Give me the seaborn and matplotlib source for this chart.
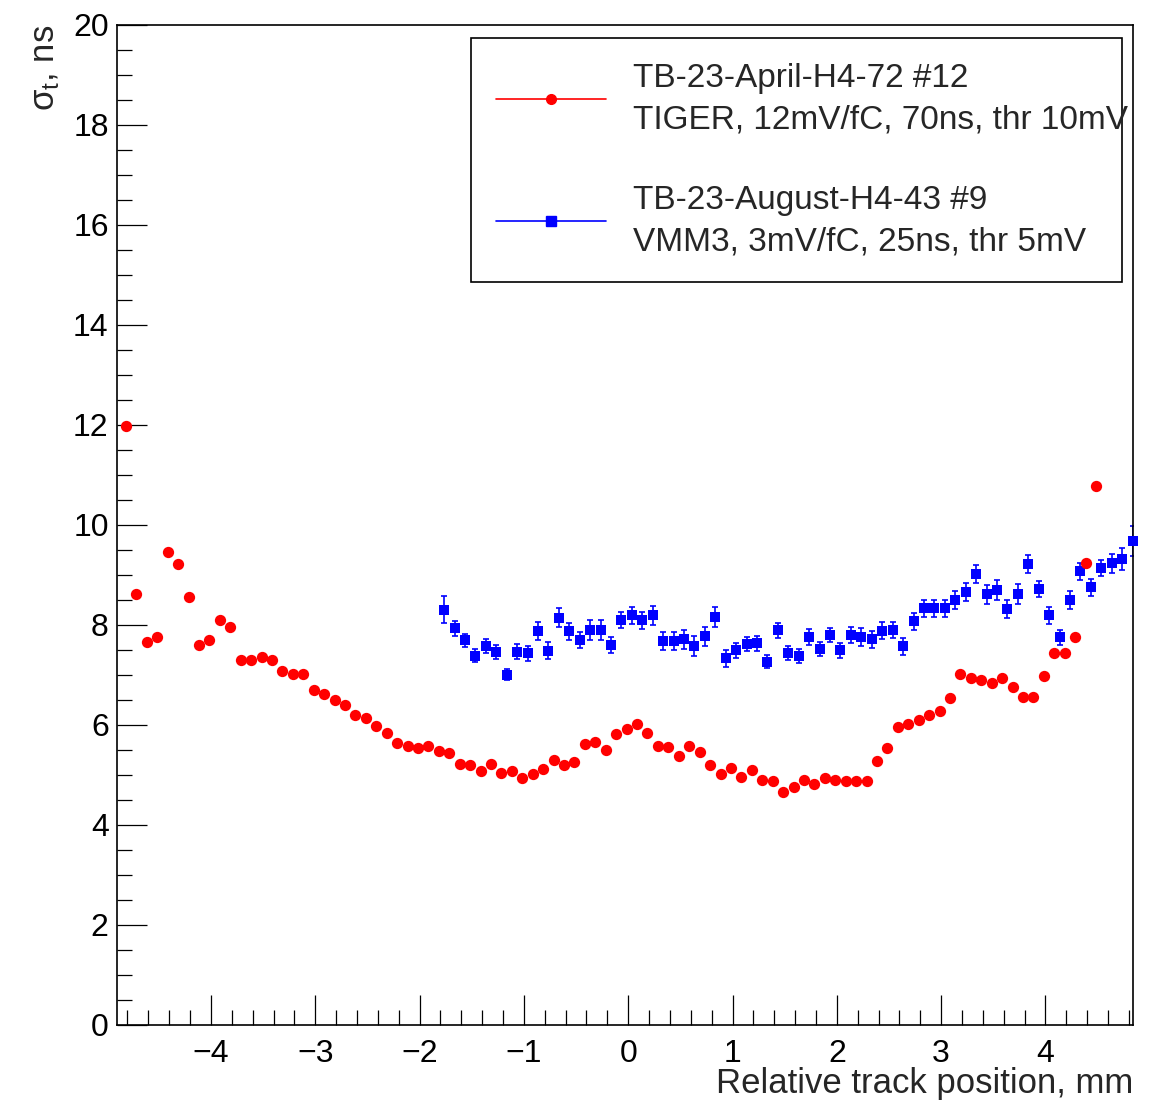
import numpy as np
import pandas as pd
import matplotlib
matplotlib.use("Agg")
import matplotlib.pyplot as plt
from matplotlib.lines import Line2D
from matplotlib.ticker import MultipleLocator
import seaborn as sns

# TB-23-April-H4-72 #12 (TIGER), bins of 0.1 mm
red_x0 = -4.815
red_sigma = [11.97, 8.62, 7.65, 7.75, 9.45, 9.22, 8.55, 7.59, 7.69, 8.09,
             7.95, 7.30, 7.30, 7.35, 7.30, 7.08, 7.02, 7.01, 6.69, 6.62,
             6.50, 6.39, 6.20, 6.14, 5.97, 5.83, 5.64, 5.57, 5.53,
             5.58, 5.47, 5.43, 5.22, 5.19, 5.08, 5.22, 5.03, 5.08, 4.93,
             5.02, 5.11, 5.30, 5.19, 5.25, 5.62, 5.65, 5.50, 5.81, 5.91,
             6.01, 5.83, 5.58, 5.55, 5.37, 5.57, 5.45, 5.20, 5.02, 5.14,
             4.96, 5.09, 4.89,
             4.87, 4.65, 4.75, 4.89, 4.81, 4.94, 4.89, 4.88, 4.87, 4.87,
             5.27, 5.53, 5.95, 6.01, 6.09, 6.19, 6.28, 6.53, 7.01, 6.93,
             6.90, 6.83, 6.93, 6.75, 6.55, 6.56, 6.97, 7.44, 7.44, 7.75,
             9.24, 10.78]

# TB-23-August-H4-43 #9 (VMM3)
blue_x0 = -1.765
blue_sigma = [8.30, 7.93, 7.69, 7.38, 7.57, 7.46, 7.00, 7.46, 7.43, 7.87,
              7.48, 8.14, 7.87, 7.69, 7.89, 7.89, 7.59, 8.09, 8.19, 8.09,
              8.19, 7.67, 7.67, 7.71, 7.57, 7.77, 8.15, 7.33, 7.49, 7.62,
              7.63, 7.26, 7.89, 7.43, 7.38, 7.75, 7.51, 7.79, 7.49, 7.79,
              7.76, 7.71, 7.88, 7.89, 7.57, 8.07, 8.33, 8.33, 8.33, 8.50,
              8.66, 9.02, 8.61, 8.69, 8.32, 8.61, 9.21, 8.71, 8.19, 7.75,
              8.49, 9.07, 8.75, 9.13, 9.23, 9.31, 9.67]
blue_err = [0.27, 0.15, 0.13, 0.13, 0.14, 0.14, 0.11, 0.15, 0.15, 0.18,
            0.17, 0.19, 0.17, 0.16, 0.20, 0.20, 0.16, 0.16, 0.17, 0.17,
            0.19, 0.18, 0.18, 0.19, 0.20, 0.19, 0.20, 0.17, 0.15, 0.14,
            0.15, 0.13, 0.15, 0.14, 0.14, 0.16, 0.14, 0.14, 0.15, 0.16,
            0.18, 0.17, 0.17, 0.16, 0.17, 0.17, 0.17, 0.17, 0.17, 0.18,
            0.18, 0.18, 0.19, 0.20, 0.18, 0.20, 0.18, 0.16, 0.17, 0.15,
            0.18, 0.17, 0.17, 0.16, 0.19, 0.22, 0.30]

label_red = "TB-23-April-H4-72 #12\nTIGER, 12mV/fC, 70ns, thr 10mV"
label_blue = "TB-23-August-H4-43 #9\nVMM3, 3mV/fC, 25ns, thr 5mV"

red = pd.DataFrame({"x": red_x0 + 0.1 * np.arange(len(red_sigma)), "sigma": red_sigma})
blue = pd.DataFrame({"x": blue_x0 + 0.1 * np.arange(len(blue_sigma)),
                     "sigma": blue_sigma, "err": blue_err})

sns.set_style("ticks")
plt.rcParams["font.family"] = ["Liberation Sans", "DejaVu Sans"]
plt.rcParams["mathtext.default"] = "regular"

fig = plt.figure(figsize=(11.6, 11.05), dpi=100)
ax = fig.add_axes([0.1009, 0.0724, 0.8759, 0.905])

ax.errorbar(blue["x"], blue["sigma"], yerr=blue["err"], fmt="none",
            ecolor="#0000ff", elinewidth=1.2, capsize=2.5, capthick=1.2, zorder=2)
sns.scatterplot(data=blue, x="x", y="sigma", marker="s", s=62, color="#0000ff",
                linewidth=0, ax=ax, zorder=3, clip_on=False)
sns.scatterplot(data=red, x="x", y="sigma", marker="o", s=66, color="#ff0000",
                linewidth=0, ax=ax, zorder=4)

ax.set_xlim(-4.9, 4.84)
ax.set_ylim(0, 20)
ax.xaxis.set_major_locator(MultipleLocator(1))
ax.xaxis.set_minor_locator(MultipleLocator(0.2))
ax.yaxis.set_major_locator(MultipleLocator(2))
ax.yaxis.set_minor_locator(MultipleLocator(0.5))
ax.tick_params(which="both", direction="in", width=0.9, labelsize=23,
               top=False, right=False, colors="black")
ax.tick_params(which="major", length=21.5)
ax.tick_params(which="minor", length=10.8)
ax.tick_params(axis="x", which="major", pad=10)
ax.tick_params(axis="y", which="major", pad=6)
for s in ax.spines.values():
    s.set_linewidth(1.2)
    s.set_color("black")

ax.set_xlabel("Relative track position, mm", fontsize=25, loc="right", labelpad=-1)
ax.set_ylabel("σ$_{t}$, ns", fontsize=25, loc="top", labelpad=8)

h_red = Line2D([], [], color="#ff0000", lw=1.2, marker="o", markersize=7)
h_blue = Line2D([], [], color="#0000ff", lw=1.2, marker="s", markersize=7)
leg = ax.legend([h_red, h_blue], [label_red, label_blue], loc="upper left",
                bbox_to_anchor=(0.3484, 0.744, 0.6406, 0.243), mode="expand",
                fontsize=24, frameon=True, fancybox=False, edgecolor="black",
                framealpha=1, borderpad=0.75, handlelength=3.3, handletextpad=0.82,
                labelspacing=1.5, borderaxespad=0)
leg.get_frame().set_linewidth(1.2)
for t in leg.get_texts():
    t.set_linespacing(1.42)

fig.savefig("out.png", dpi=100)
